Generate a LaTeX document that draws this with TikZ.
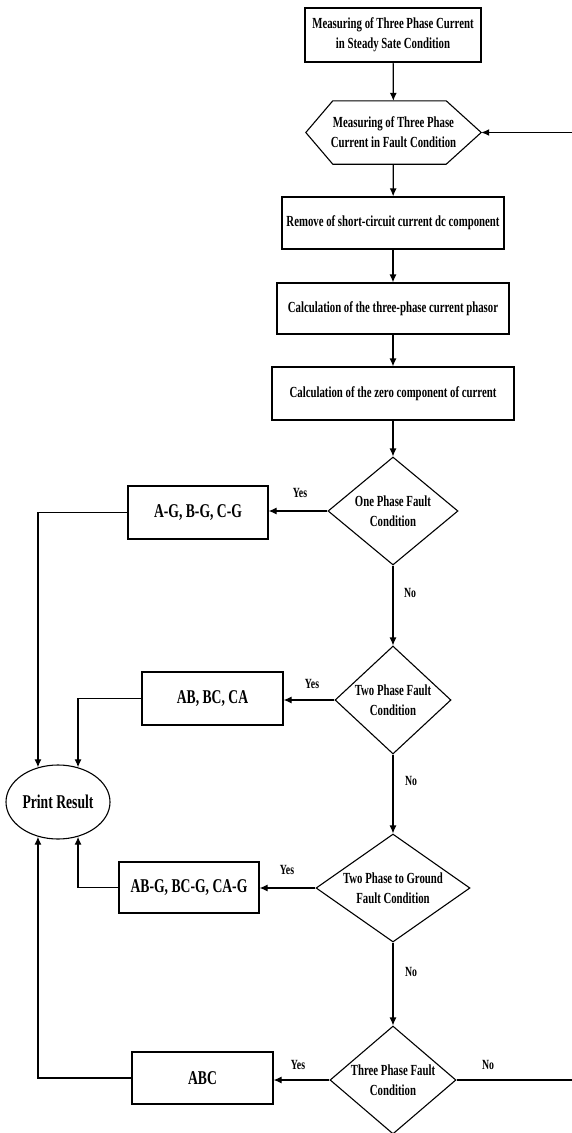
\documentclass[tikz,border=0pt]{standalone}
\usepackage{fontspec}
\setmainfont{Liberation Serif}[FakeStretch=0.7]
\usetikzlibrary{shapes.geometric,arrows.meta}
\tikzset{
  every node/.style={font=\bfseries},
  stxt/.style={font=\fontsize{15.4}{20}\selectfont\bfseries, align=center},
  btxt/.style={font=\fontsize{19.5}{23}\selectfont\bfseries, align=center},
  lbl/.style={font=\fontsize{14}{16}\selectfont\bfseries, inner sep=0pt},
  box/.style={draw, line width=1.2pt, inner sep=0pt},
  hexbox/.style={inner sep=0pt},
  cond/.style={draw, diamond, line width=1.1pt, inner sep=0pt, stxt},
  oval/.style={draw, ellipse, line width=1.1pt, inner sep=0pt, btxt},
  conn/.style={line width=1.2pt, -{Latex[length=8pt,width=7pt]}},
  plain/.style={line width=1.2pt}
}
\begin{document}
\begin{tikzpicture}[x=1pt,y=-1pt]
\useasboundingbox (0,0) rectangle (571,1133);
% main column
\node[box, stxt, minimum width=176, minimum height=54] (b1) at (393,35) {Measuring of Three Phase Current\\in Steady Sate Condition};
\node[hexbox, stxt, minimum width=175, minimum height=63] (hex) at (393.5,132.5) {Measuring of Three Phase\\Current in Fault Condition};
\draw[line width=1.1pt] (hex.west) -- ([xshift=27pt]hex.north west) -- ([xshift=-35pt]hex.north east) -- (hex.east) -- ([xshift=-35pt]hex.south east) -- ([xshift=27pt]hex.south west) -- cycle;
\node[box, stxt, minimum width=222, minimum height=52] (b3) at (393,223) {Remove of short-circuit current dc component};
\node[box, stxt, minimum width=232, minimum height=51] (b4) at (393,308.5) {Calculation of the three-phase current phasor};
\node[box, stxt, minimum width=242, minimum height=53] (b5) at (393,393.5) {Calculation of the zero component of current};
% decisions
\node[cond, aspect=1.2, minimum width=130, minimum height=108] (d1) at (393,511) {One Phase Fault\\Condition};
\node[cond, aspect=1.07, minimum width=116, minimum height=108] (d2) at (393,700) {Two Phase Fault\\Condition};
\node[cond, aspect=1.5, minimum width=154, minimum height=108] (d3) at (393,888) {Two Phase to Ground\\Fault Condition};
\node[cond, aspect=1.2, minimum width=126, minimum height=108] (d4) at (393,1080) {Three Phase Fault\\Condition};
% results
\node[box, btxt, minimum width=140, minimum height=53] (ag) at (198,512.5) {A-G, B-G, C-G};
\node[box, btxt, minimum width=141, minimum height=53] (ab) at (212.5,698.5) {AB, BC, CA};
\node[box, btxt, minimum width=140, minimum height=51] (abg) at (189,887.5) {AB-G, BC-G, CA-G};
\node[box, btxt, minimum width=141, minimum height=52] (abc) at (202.5,1078) {ABC};
\node[oval, minimum width=104, minimum height=74] (pr) at (58,802) {Print Result};
% labels
\node[lbl] (y1) at (300,493) {Yes};
\node[lbl] (n1) at (410,593) {No};
\node[lbl] (y2) at (312,684) {Yes};
\node[lbl] (n2) at (411,781) {No};
\node[lbl] (y3) at (287,870) {Yes};
\node[lbl] (n3) at (411,972) {No};
\node[lbl] (y4) at (298,1065) {Yes};
\node[lbl] (n4) at (488,1065) {No};
% connectors main column
\draw[conn] (b1) -- (hex);
\draw[conn] (hex) -- (b3);
\draw[conn] (b3) -- (b4);
\draw[conn] (b4) -- (b5);
\draw[conn] (b5) -- (d1);
\draw[conn] (d1) -- (d2);
\draw[conn] (d2) -- (d3);
\draw[conn] (d3) -- (d4);
% yes branches
\draw[conn] (d1.west) -- (d1.west -| ag.east);
\draw[conn] (d2.west) -- (d2.west -| ab.east);
\draw[conn] (d3.west) -- (d3.west -| abg.east);
\draw[conn] (d4.west) -- (d4.west -| abc.east);
% to print result
\draw[conn] (ag.west) -| (pr.120);
\draw[conn] (ab.west) -| (pr.60);
\draw[conn] (abg.west) -| (pr.300);
\draw[conn] (abc.west) -| (pr.240);
% feedback loop
\coordinate (fb) at (590,1080);
\draw[conn] (d4.east) -- (fb) |- (hex.east);
\end{tikzpicture}
\end{document}
